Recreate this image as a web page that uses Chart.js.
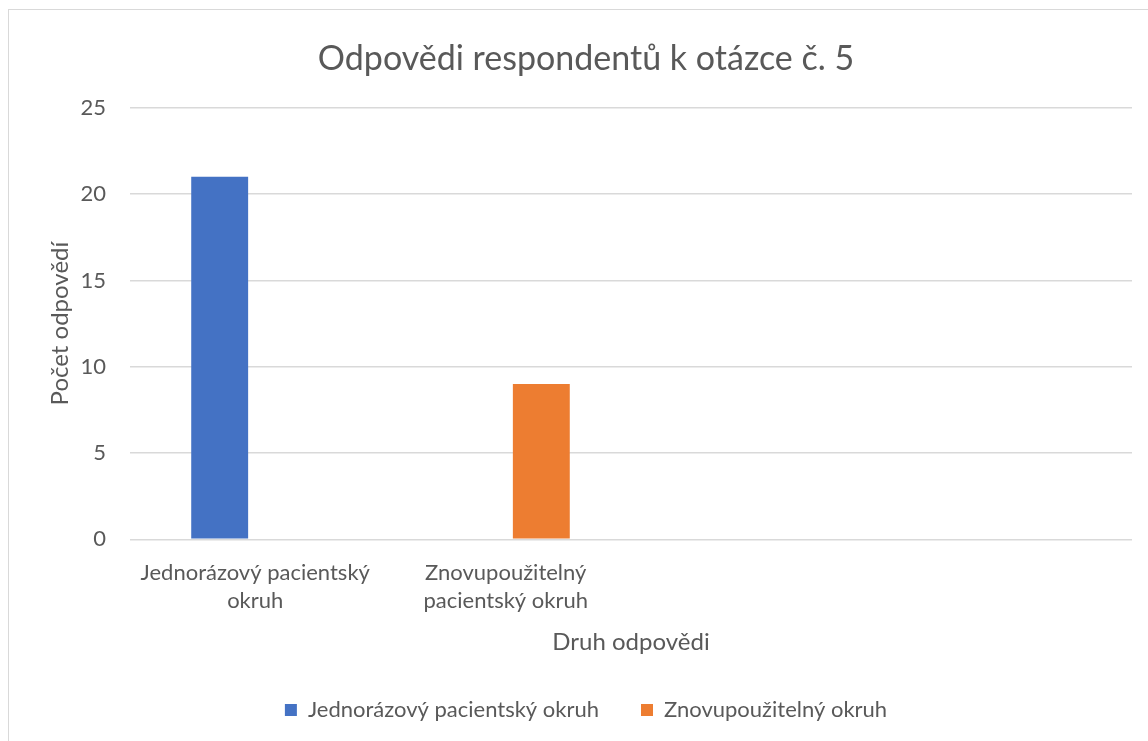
<!DOCTYPE html>
<html>
<head>
<meta charset="utf-8">
<script src="https://cdn.jsdelivr.net/npm/chart.js@4.4.1/dist/chart.umd.min.js"></script>
<style>
  html, body { margin: 0; padding: 0; background: #fff; }
  #wrap { position: relative; width: 1148px; height: 741px; overflow: hidden; }
  #frame { position: absolute; left: 8px; top: 9px; width: 1200px; height: 800px; border: 1px solid #d9d9d9; box-sizing: border-box; }
  #chart { position: absolute; left: 0; top: 0; }
</style>
</head>
<body>
<div id="wrap">
  <div id="frame"></div>
  <canvas id="chart" width="1148" height="741"></canvas>
</div>
<script>
/* ---- data ---- */
const categories = [['Jednorázový pacientský', 'okruh'], ['Znovupoužitelný', 'pacientský okruh'], '', ''];
const seriesNames = ['Jednorázový pacientský okruh', 'Znovupoužitelný okruh'];
const jednorazovy = [21, null, null, null];
const znovupouzitelny = [null, 9, null, null];
const yTicks = [0, 5, 10, 15, 20, 25];

const COLORS = {
  blue: '#4472C4',
  orange: '#ED7D31',
  text: '#595959',
  grid: '#d9d9d9',
};
const FONT = "Lato, 'Open Sans', sans-serif";

Chart.defaults.font.family = FONT;
Chart.defaults.color = COLORS.text;

new Chart(document.getElementById('chart'), {
  type: 'bar',
  data: {
    labels: categories,
    datasets: [
      { label: seriesNames[0], data: jednorazovy, backgroundColor: COLORS.blue },
      { label: seriesNames[1], data: znovupouzitelny, backgroundColor: COLORS.orange },
    ]
  },
  options: {
    responsive: false,
    animation: false,
    categoryPercentage: 0.568,
    barPercentage: 0.8,
    layout: { padding: { left: 40, right: 16, top: 39, bottom: 10 } },
    plugins: {
      title: {
        display: true,
        text: 'Odpovědi respondentů k otázce č. 5',
        color: COLORS.text,
        font: { family: FONT, size: 34, weight: 'normal' },
        padding: { top: 0, bottom: 28 }
      },
      legend: {
        position: 'bottom',
        labels: {
          boxWidth: 12,
          boxHeight: 12,
          padding: 42,
          color: COLORS.text,
          font: { family: FONT, size: 22 }
        }
      },
      tooltip: { enabled: false }
    },
    scales: {
      x: {
        grid: { display: false },
        border: { display: false },
        ticks: { color: COLORS.text, font: { family: FONT, size: 22, lineHeight: 1.27 }, maxRotation: 0, padding: 12 },
        title: {
          display: true,
          text: 'Druh odpovědi',
          color: COLORS.text,
          font: { family: FONT, size: 24 },
          padding: { top: 1, bottom: 0 }
        }
      },
      y: {
        min: 0,
        max: 25,
        afterBuildTicks: (axis) => { axis.ticks = yTicks.map(v => ({ value: v })); },
        afterFit: (axis) => { axis.width = 90; },
        grid: { color: COLORS.grid, lineWidth: 1.5, drawTicks: false },
        border: { display: false },
        ticks: { color: COLORS.text, font: { family: FONT, size: 22 }, padding: 24 },
        title: {
          display: true,
          text: 'Počet odpovědí',
          color: COLORS.text,
          font: { family: FONT, size: 24 },
          padding: { top: 6, bottom: 0 }
        }
      }
    }
  }
});
</script>
</body>
</html>
